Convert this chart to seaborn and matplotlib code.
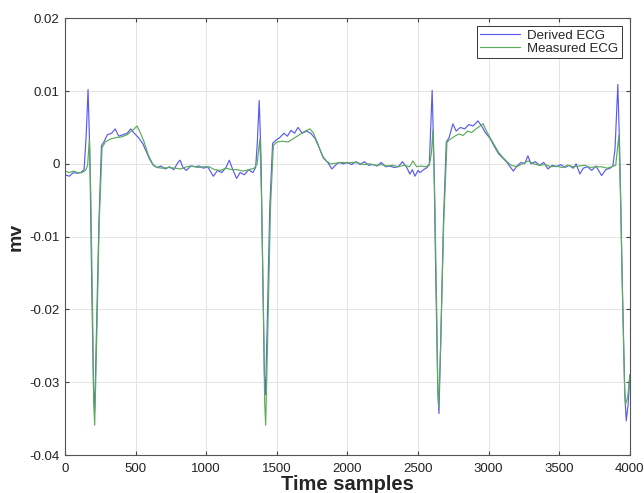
import matplotlib
matplotlib.use("Agg")

import matplotlib.pyplot as plt
import seaborn as sns
import pandas as pd
from matplotlib.ticker import FuncFormatter

# values, sample index -> mV
derived_t = [0, 30, 60, 90, 110, 135, 150, 163, 175, 190, 202, 210, 220, 240, 258, 275, 300,
             330, 355, 380, 410, 440, 465, 490, 520, 550, 580, 600, 625, 650, 680, 710,
             740, 770, 800, 815, 835, 860, 890, 920, 950, 980, 1010, 1050, 1080, 1110,
             1140, 1163, 1190, 1215, 1240, 1270, 1300, 1330, 1350,
             1362, 1375, 1388, 1400, 1412, 1420, 1432, 1450, 1470, 1490, 1520, 1550, 1575,
             1600, 1625, 1650, 1680, 1710, 1740, 1770, 1800, 1830, 1860, 1890, 1915,
             1940, 1970, 2000, 2030, 2060, 2090, 2120, 2150, 2180, 2210, 2240, 2270,
             2300, 2330, 2360, 2390, 2420, 2442, 2460, 2478, 2500, 2513, 2540, 2565, 2580,
             2590, 2600, 2612, 2625, 2640, 2648, 2660, 2680, 2700, 2720, 2747, 2770, 2800,
             2830, 2860, 2890, 2924, 2950, 2980, 3010, 3040, 3070, 3100, 3130, 3160,
             3175, 3200, 3230, 3255, 3278, 3300, 3330, 3360, 3390, 3420, 3450, 3480,
             3510, 3540, 3570, 3600, 3620, 3646, 3670, 3700, 3730, 3760, 3800, 3830,
             3860, 3880, 3895, 3915, 3928, 3945, 3965, 3975, 3988, 4000]
derived_mv = [-0.0015, -0.0017, -0.0012, -0.0013, -0.0012, -0.0008, 0.004, 0.0102, 0.002,
              -0.018, -0.031, -0.0338, -0.025, -0.008, 0.0025, 0.003, 0.004, 0.0042, 0.0048,
              0.0038, 0.004, 0.0042, 0.0048, 0.0042, 0.0036, 0.0028, 0.0015, 0.0006,
              -0.0002, -0.0005, -0.0003, -0.0007, -0.0004, -0.0008, 0.0002, 0.0005,
              -0.0005, -0.0009, -0.0003, -0.0004, -0.0003, -0.0006, -0.0004, -0.0017,
              -0.0009, -0.0012, -0.0005, 0.0005, -0.0009, -0.002, -0.0012, -0.0015,
              -0.0008, -0.0012, -0.0005,
              0.003, 0.0087, 0.001, -0.015, -0.029, -0.0317, -0.022, -0.006, 0.0028, 0.0032,
              0.0036, 0.0042, 0.0038, 0.0046, 0.0042, 0.005, 0.0042, 0.0045, 0.0042,
              0.0035, 0.0022, 0.0008, 0.0002, -0.0007, -0.0002, 0.0002, 0.0, 0.0002,
              -0.0001, 0.0003, -0.0001, 0.0003, -0.0002, -0.0001, -0.0003, 0.0002,
              -0.0004, -0.0003, -0.0005, -0.0004, 0.0003, -0.0005, -0.0014, -0.0008,
              -0.0017, -0.0009, -0.0012, -0.0008, -0.0005, 0.0,
              0.005, 0.0101, 0.001, -0.015, -0.031, -0.0343, -0.025, -0.008, 0.003, 0.0036,
              0.0055, 0.0045, 0.005, 0.0048, 0.0054, 0.0052, 0.0059, 0.0052, 0.0042,
              0.0035, 0.0024, 0.0014, 0.0008, 0.0002, -0.0006, -0.001, -0.0003, 0.0002,
              0.0, 0.0011, 0.0, 0.0003, -0.0002, 0.0002, -0.0007, -0.0002, -0.0004,
              -0.0001, -0.0005, -0.0002, -0.0006, 0.0, -0.0014, -0.0006, -0.0004,
              -0.0009, -0.0003, -0.0016, -0.0008, -0.0006, -0.0003, 0.002, 0.0109,
              0.002, -0.015, -0.032, -0.0353, -0.033, -0.029]

measured_t = [0, 30, 60, 90, 120, 145, 160, 172, 182, 195, 203, 210, 222, 242, 262, 285, 320,
              360, 400, 440, 470, 490, 510, 535, 560, 590, 620, 650, 690, 730, 780, 820,
              860, 900, 940, 980, 1020, 1060, 1100, 1140, 1180, 1220, 1260, 1300, 1340,
              1360, 1380, 1392, 1405, 1414, 1421, 1435, 1455, 1475, 1500, 1540, 1580, 1620,
              1660, 1700, 1735, 1760, 1790, 1820, 1850, 1880, 1920, 1960, 2000, 2040,
              2080, 2120, 2160, 2200, 2240, 2280, 2320, 2360, 2400, 2440, 2464, 2490,
              2520, 2550, 2580, 2595, 2605, 2618, 2632, 2640, 2646, 2660, 2682, 2705, 2730,
              2760, 2790, 2820, 2850, 2880, 2910, 2940, 2960, 2985, 3010, 3040, 3070,
              3100, 3130, 3160, 3200, 3240, 3280, 3320, 3360, 3400, 3440, 3480, 3520,
              3560, 3600, 3640, 3680, 3720, 3760, 3800, 3840, 3870, 3900, 3912, 3922,
              3935, 3950, 3963, 3970, 3985, 4000]
measured_mv = [-0.001, -0.0012, -0.001, -0.0012, -0.0012, -0.0009, -0.0002, 0.0034, -0.004,
               -0.02, -0.033, -0.0359, -0.026, -0.008, 0.0022, 0.003, 0.0034, 0.0036, 0.0037,
               0.004, 0.0045, 0.0048, 0.0052, 0.0042, 0.003, 0.0012, 0.0, -0.0005,
               -0.0006, -0.0005, -0.0006, -0.0007, -0.0004, -0.0003, -0.0005, -0.0004,
               -0.0004, -0.0008, -0.0009, -0.0006, -0.0008, -0.0008, -0.001, -0.0008,
               -0.0006, 0.0, 0.0034, -0.005, -0.02, -0.033, -0.0359, -0.024, -0.006, 0.0025,
               0.003, 0.0031, 0.003, 0.0035, 0.004, 0.0045, 0.0048, 0.0042, 0.0028,
               0.0012, 0.0004, 0.0, 0.0001, 0.0002, 0.0001, 0.0002, 0.0001, -0.0001,
               0.0, -0.0002, -0.0001, -0.0003, -0.0002, -0.0004, -0.0002, -0.0004,
               0.0004, -0.0004, -0.0003, -0.0004, -0.0002, 0.0015, 0.0046, -0.004,
               -0.02, -0.031, -0.0334, -0.025, -0.008, 0.003, 0.0034, 0.0038, 0.0041, 0.0039,
               0.0045, 0.0043, 0.0048, 0.0052, 0.0055, 0.0045, 0.0036, 0.0026, 0.0016,
               0.0009, 0.0003, -0.0002, -0.0004, 0.0, 0.0004, 0.0, -0.0002, -0.0001,
               -0.0004, -0.0003, -0.0005, -0.0002, -0.0004, -0.0003, -0.0002, -0.0005,
               -0.0004, -0.0004, -0.0006, -0.0004, -0.0002, 0.002, 0.0039, -0.005,
               -0.02, -0.031, -0.033, -0.032, -0.029]

x_ticks = [0, 500, 1000, 1500, 2000, 2500, 3000, 3500, 4000]
y_ticks = [-0.04, -0.03, -0.02, -0.01, 0, 0.01, 0.02]

df = pd.concat([
    pd.DataFrame({"t": derived_t, "mv": derived_mv, "signal": "Derived ECG"}),
    pd.DataFrame({"t": measured_t, "mv": measured_mv, "signal": "Measured ECG"}),
])

sns.set_style("whitegrid")
plt.rcParams["font.family"] = ["Liberation Sans", "DejaVu Sans"]
plt.rcParams["axes.unicode_minus"] = False

fig = plt.figure(figsize=(6.44, 4.93), dpi=100)
ax = fig.add_axes([0.101, 0.077, 0.877, 0.886])

sns.lineplot(
    data=df, x="t", y="mv", hue="signal",
    palette={"Derived ECG": "#5a5af0", "Measured ECG": "#5aac5a"},
    linewidth=0.85, sort=False, estimator=None, ax=ax
)

ax.set_xlim(0, 4000)
ax.set_ylim(-0.04, 0.02)
ax.set_xticks(x_ticks)
ax.set_yticks(y_ticks)
ax.yaxis.set_major_formatter(FuncFormatter(lambda v, _: f"{v:g}"))
ax.tick_params(labelsize=9.5, direction="in", length=3, top=True, right=True,
               bottom=True, left=True, color="#444444", labelcolor="#222222")
ax.tick_params(axis="x", pad=6)
ax.tick_params(axis="y", pad=4)
ax.grid(True, color="#e4e4e4", linewidth=0.7)
for s in ax.spines.values():
    s.set_color("#555555")
    s.set_linewidth(0.8)

ax.set_xlabel("Time samples", fontsize=14.5, fontweight="bold", labelpad=0)
ax.set_ylabel("mv", fontsize=14, fontweight="bold", labelpad=3)

leg = ax.legend(loc="upper right", fontsize=9.5, frameon=True, fancybox=False,
                framealpha=1, edgecolor="#333333", borderpad=0.25,
                handlelength=3.0, handletextpad=0.6, labelspacing=0.05,
                borderaxespad=0.6)
leg.get_frame().set_linewidth(0.7)

fig.savefig("out.png", dpi=100)
